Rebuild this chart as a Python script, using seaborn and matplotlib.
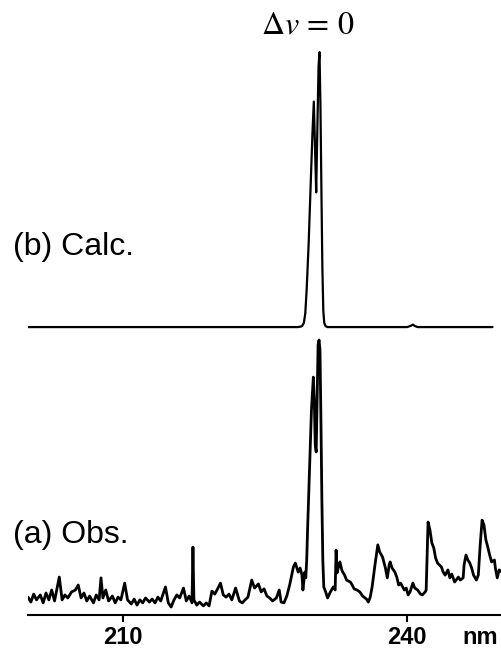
import seaborn as sns
import pandas as pd
import matplotlib.pyplot as plt

sns.set_theme(style="white")
plt.rcParams['font.family'] = ['Liberation Sans', 'DejaVu Sans']
plt.rcParams['mathtext.fontset'] = 'stix'
plt.rcParams['text.color'] = 'black'

# (a) observed spectrum, wavelength (nm) and intensity (arb. units)
obs_nm = [200.0, 200.3, 200.6, 200.9, 201.3, 201.6, 201.9, 202.2, 202.5, 202.8,
          203.3, 203.6, 203.9, 204.2, 204.6, 205.0, 205.3, 205.6, 205.9, 206.2,
          206.5, 206.9, 207.2, 207.5, 207.7, 207.9, 208.2, 208.5, 208.9, 209.2,
          209.5, 209.8, 210.2, 210.5, 210.9, 211.2, 211.5, 211.8, 212.1, 212.4,
          212.8, 213.1, 213.4, 213.7, 214.0, 214.5, 214.8, 215.1, 215.4, 215.7,
          216.0, 216.4, 216.7, 217.0, 217.3, 217.4, 217.5, 217.8, 218.1, 218.5,
          218.8, 219.1, 219.4, 219.7, 220.0, 220.3, 220.6, 220.9, 221.2, 221.5,
          221.9, 222.3, 222.6, 222.9, 223.2, 223.6, 223.9, 224.3, 224.6, 224.9,
          225.2, 225.5, 225.8, 226.2, 226.5, 226.7, 227.0, 227.3, 227.6, 228.0,
          228.2, 228.5, 228.7, 228.9, 229.0, 229.2, 229.3, 229.4, 229.5, 229.7,
          229.9, 230.1, 230.2, 230.3, 230.4, 230.5, 230.6, 230.7, 230.8, 230.9,
          231.0, 231.1, 231.2, 231.4, 231.6, 231.9, 232.2, 232.4, 232.5, 232.6,
          232.8, 232.9, 233.1, 233.2, 233.4, 233.6, 234.0, 234.2, 234.4, 234.7,
          235.0, 235.3, 235.7, 235.9, 236.1, 236.3, 236.6, 236.9, 237.1, 237.4,
          237.7, 237.9, 238.1, 238.2, 238.4, 238.7, 238.9, 239.1, 239.3, 239.7,
          239.9, 240.1, 240.3, 240.6, 240.8, 241.1, 241.4, 241.6, 241.9, 242.0,
          242.2, 242.4, 242.6, 242.8, 243.0, 243.2, 243.6, 243.8, 244.0, 244.3,
          244.5, 244.7, 245.0, 245.4, 245.6, 245.9, 246.0, 246.2, 246.4, 246.6,
          246.8, 247.0, 247.3, 247.5, 247.7, 247.9, 248.1, 248.3, 248.5, 248.7,
          248.9, 249.2, 249.3, 249.5, 249.7, 250.0]
obs_int = [6.5, 4.7, 7.6, 5.5, 7.3, 4.4, 8.0, 5.5, 9.1, 5.1,
           13.8, 5.5, 7.3, 6.2, 8.4, 9.1, 10.9, 6.2, 8.0, 5.1,
           6.9, 4.4, 7.3, 5.5, 13.5, 6.2, 9.1, 5.1, 6.9, 4.4,
           6.5, 5.5, 11.6, 5.5, 4.0, 5.8, 3.6, 5.5, 4.4, 6.2,
           4.7, 5.8, 4.4, 6.5, 5.1, 10.2, 4.4, 2.9, 5.5, 7.3,
           6.2, 9.8, 5.1, 6.9, 4.4, 24.7, 5.5, 3.6, 4.7, 3.3,
           4.4, 3.3, 8.7, 7.6, 9.5, 11.6, 7.3, 6.5, 7.6, 5.5,
           9.8, 5.1, 4.4, 5.5, 6.5, 12.7, 9.8, 11.3, 8.4, 9.5,
           6.9, 6.2, 5.1, 6.2, 9.1, 4.7, 4.4, 6.9, 10.9, 17.5,
           18.9, 15.6, 17.1, 14.5, 9.1, 15.6, 13.5, 20.0, 32.0, 52.7,
           74.5, 86.5, 78.2, 61.8, 59.3, 78.2, 98.2, 100.0, 96.4, 70.9,
           41.8, 20.0, 10.2, 8.4, 6.2, 8.4, 10.2, 9.1, 23.6, 15.3,
           18.2, 19.3, 16.4, 15.6, 14.5, 12.7, 12.0, 10.9, 9.5, 9.1,
           8.4, 6.9, 5.8, 4.7, 6.5, 10.2, 18.2, 25.5, 22.9, 21.1,
           17.1, 13.5, 18.2, 19.3, 17.1, 15.6, 13.8, 10.9, 11.6, 9.1,
           9.8, 7.3, 8.4, 11.6, 9.8, 9.1, 7.6, 7.3, 8.4, 9.1,
           33.8, 30.9, 26.2, 24.4, 20.7, 18.9, 17.5, 15.6, 14.5, 16.4,
           13.5, 14.9, 12.0, 13.8, 12.7, 13.5, 18.2, 21.8, 20.0, 18.9,
           17.1, 14.5, 12.7, 14.5, 25.5, 34.5, 32.7, 27.3, 24.7, 21.8,
           19.3, 20.0, 17.1, 13.5, 16.4, 15.6]

# (b) calculated spectrum
calc_nm = [200.0, 228.5, 228.9, 229.1, 229.25, 229.4, 229.6, 229.8, 230.0, 230.15,
           230.3, 230.4, 230.5, 230.65, 230.75, 230.85, 230.95, 231.05, 231.15, 231.25,
           231.4, 231.6, 240.0, 240.4, 240.6, 240.8, 241.1, 249.0]
calc_int = [0, 0, 0.3, 1.5, 5, 14, 30, 50, 70, 82,
            62, 49, 68, 95, 100, 80, 50, 22, 6, 1.5,
            0.3, 0, 0, 0.5, 0.9, 0.4, 0, 0]
calc_offset = 104.7

tick_vals = [210, 240]

obs = pd.DataFrame({'nm': obs_nm, 'I': obs_int})
calc = pd.DataFrame({'nm': calc_nm, 'I': [v + calc_offset for v in calc_int]})

fig = plt.figure(figsize=(5.02, 6.5), dpi=100)
ax = fig.add_axes([28 / 502, 1 - 615 / 650, 1 - 28 / 502, 615 / 650])

sns.lineplot(data=obs, x='nm', y='I', ax=ax, color='black', linewidth=2.0,
             estimator=None, sort=False)
sns.lineplot(data=calc, x='nm', y='I', ax=ax, color='black', linewidth=1.6,
             estimator=None, sort=False)

ax.set_xlim(200, 250)
ax.set_ylim(0, 615 / 2.75)

for s in ['top', 'right', 'left']:
    ax.spines[s].set_visible(False)
ax.spines['bottom'].set_color('black')
ax.spines['bottom'].set_linewidth(1.5)

ax.set_xticks(tick_vals)
ax.set_xticklabels([str(t) for t in tick_vals], fontsize=17, fontweight='bold')
ax.set_yticks([])
ax.tick_params(axis='x', direction='out', length=5, width=1.5, pad=3,
               bottom=True, colors='black', labelcolor='black')
ax.set_xlabel('')
ax.set_ylabel('')
ax.patch.set_alpha(0)

fig.text(462 / 502, 1 - 644 / 650, 'nm', fontsize=17, fontweight='bold',
         ha='left', va='baseline', color='black')
fig.text(13 / 502, 1 - 255 / 650, '(b) Calc.', fontsize=23, ha='left',
         va='baseline', color='black')
fig.text(13 / 502, 1 - 543 / 650, '(a) Obs.', fontsize=23, ha='left',
         va='baseline', color='black')
fig.text(308 / 502, 1 - 25 / 650, r'$\Delta v\,=\,0$', fontsize=23,
         ha='center', va='center', color='black')

fig.savefig('out.png', dpi=100, facecolor='white')
